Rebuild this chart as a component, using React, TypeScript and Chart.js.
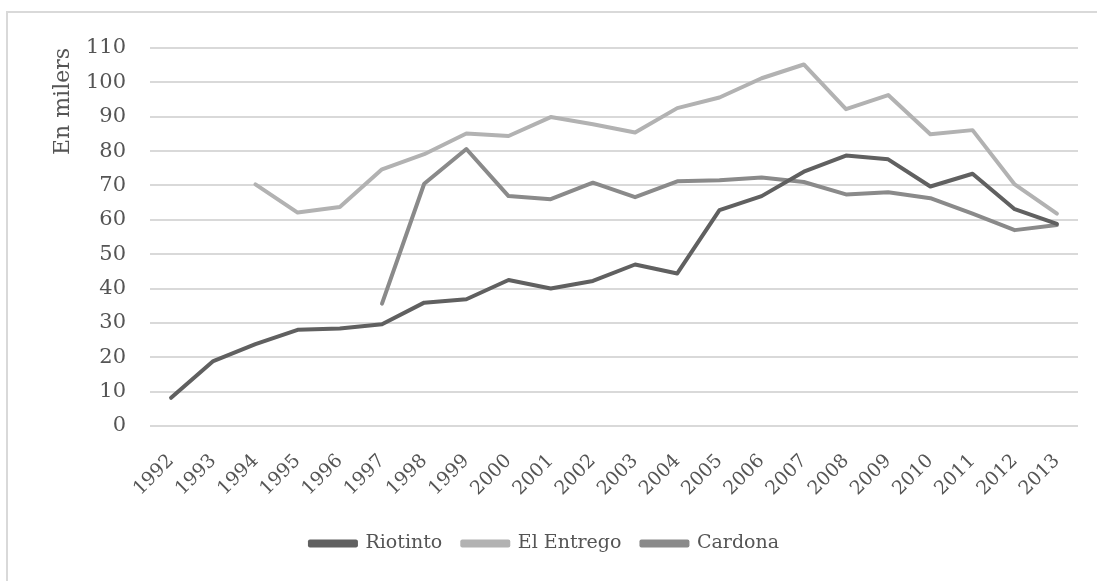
import React, { useEffect, useRef } from "react";
import { Chart, registerables } from "chart.js";

Chart.register(...registerables);

const years = ["1992","1993","1994","1995","1996","1997","1998","1999","2000","2001","2002","2003","2004","2005","2006","2007","2008","2009","2010","2011","2012","2013"];
const riotinto = [8.2, 18.9, 23.8, 28.0, 28.4, 29.6, 35.9, 36.9, 42.5, 40.0, 42.2, 47.0, 44.4, 62.8, 66.9, 74.0, 78.7, 77.6, 69.7, 73.4, 63.1, 58.8];
const elEntrego = [null, null, 70.3, 62.1, 63.7, 74.7, 79.1, 85.1, 84.4, 89.9, 87.8, 85.4, 92.5, 95.6, 101.2, 105.2, 92.2, 96.3, 84.9, 86.1, 70.3, 61.8];
const cardona = [null, null, null, null, null, 35.6, 70.5, 80.6, 66.9, 66.0, 70.8, 66.6, 71.2, 71.5, 72.3, 71.0, 67.4, 68.0, 66.3, 61.8, 57.0, 58.5];
const yTicks = [0, 10, 20, 30, 40, 50, 60, 70, 80, 90, 100, 110];

const FONT = "'DejaVu Serif', serif";

export default function App() {
  const ref = useRef<HTMLCanvasElement | null>(null);
  useEffect(() => {
    if (!ref.current) return;
    const chart = new Chart(ref.current, {
      type: "line",
      data: {
        labels: years,
        datasets: [
          { label: "Riotinto", data: riotinto, borderColor: "#606060", backgroundColor: "#606060" },
          { label: "El Entrego", data: elEntrego, borderColor: "#b2b2b2", backgroundColor: "#b2b2b2" },
          { label: "Cardona", data: cardona, borderColor: "#8a8a8a", backgroundColor: "#8a8a8a" },
        ].map((d) => ({
          ...d,
          borderWidth: 4,
          pointRadius: 0,
          pointHoverRadius: 0,
          borderCapStyle: "round" as const,
          borderJoinStyle: "round" as const,
          tension: 0,
          spanGaps: false,
        })),
      },
      options: {
        responsive: false,
        animation: false,
        layout: { padding: { left: 11, right: 19, top: 48, bottom: 18 } },
        scales: {
          x: {
            offset: true,
            grid: { display: false },
            border: { display: false },
            ticks: {
              color: "#555555",
              font: { family: FONT, size: 19 },
              maxRotation: 45,
              minRotation: 45,
              autoSkip: false,
              padding: 16,
            },
            afterFit: (s: any) => { s.height = 88; },
          },
          y: {
            min: 0,
            max: 110,
            afterBuildTicks: (s: any) => { s.ticks = yTicks.map((v) => ({ value: v })); },
            grid: { color: "#d9d9d9", lineWidth: 2, drawTicks: false },
            border: { display: false },
            ticks: {
              color: "#555555",
              font: { family: FONT, size: 21 },
              padding: 24,
            },
            title: {
              display: true,
              text: "En milers",
              align: "end",
              color: "#555555",
              font: { family: FONT, size: 22 },
              padding: { top: 39, bottom: 0 },
            },
            afterFit: (s: any) => { s.width = 139; },
          },
        },
        plugins: {
          legend: {
            position: "bottom",
            labels: {
              color: "#555555",
              font: { family: FONT, size: 19 },
              boxWidth: 46,
              boxHeight: 4,
              padding: 20,
            },
          },
          tooltip: { enabled: false },
        },
      },
    });
    return () => chart.destroy();
  }, []);
  return (
    <div style={{ position: "fixed", left: 0, top: 0, width: 1097, height: 581, overflow: "hidden", background: "#fff" }}>
      <div style={{ position: "absolute", left: 6, top: 11, width: 1200, height: 700, border: "2px solid #d9d9d9" }} />
      <canvas ref={ref} width={1097} height={581} style={{ position: "absolute", left: 0, top: 0, width: 1097, height: 581 }} />
    </div>
  );
}
